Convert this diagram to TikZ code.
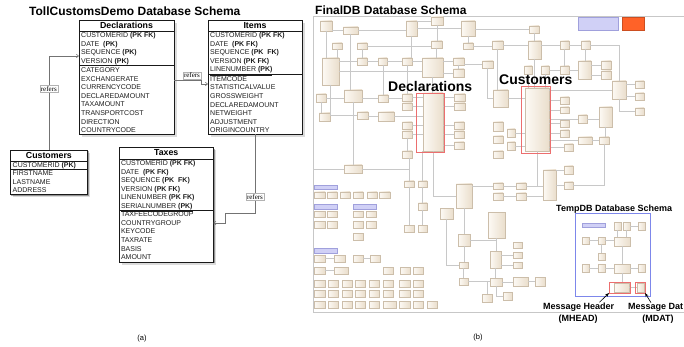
\documentclass[tikz,border=0pt]{standalone}
\usepackage{fontspec}
\setmainfont{Liberation Sans}
\newfontfamily\relfont{Liberation Serif}
\usetikzlibrary{shadows,arrows.meta}

\definecolor{beigeL}{RGB}{253,250,245}
\definecolor{beigeR}{RGB}{234,222,204}
\definecolor{beigeD}{RGB}{204,190,170}
\definecolor{wire}{RGB}{200,200,200}
\definecolor{lav}{RGB}{208,208,246}
\definecolor{lavD}{RGB}{160,160,220}
\definecolor{redbox}{RGB}{236,110,110}
\definecolor{bluebox}{RGB}{125,135,235}
\definecolor{orangebox}{RGB}{255,98,40}

% a rectangle node given by its corner coordinates
\newcommand\rectnode[6]{\node[#1,minimum width={(#5-#3)*1pt},minimum height={(#6-#4)*1pt}] (#2) at ({(#3+#5)/2},{(#4+#6)/2}) {};}
% orthogonal wires between the small schema boxes
\newcommand\hlink[2]{\draw[wirel] (#2.west) -- (#2.west -| #1.east);}
\newcommand\hlinkA[2]{\draw[wirel] (#1.east) -- (#1.east -| #2.west);}
\newcommand\vlink[2]{\draw[wirel] (#1.south) -- (#1.south |- #2.north);}
\newcommand\vlinkB[2]{\draw[wirel] (#2.north) -- (#2.north |- #1.south);}

\begin{document}
\begin{tikzpicture}[x=1pt,y=-1pt,
  tbl/.style={draw=black!90,line width=0.6pt,fill=white,inner sep=0,outer sep=0,
    general shadow={fill=black,opacity=.14,shadow xshift=2.6pt,shadow yshift=-2.6pt},
    drop shadow={fill=black,opacity=.32,shadow xshift=1.3pt,shadow yshift=-1.3pt}},
  tline/.style={draw=black!90,line width=0.5pt},
  hdr/.style={font=\fontsize{8.8}{9}\selectfont\bfseries,anchor=base,inner sep=0},
  rowt/.style={font=\fontsize{7}{8}\selectfont,anchor=base west,inner sep=0,text=black!88},
  relline/.style={draw=black!55,line width=0.55pt,-{Straight Barb[length=2.2pt,width=3.4pt]}},
  reflabel/.style={font=\relfont\fontsize{7}{7}\selectfont,fill=white,draw=black!30,line width=0.3pt,inner sep=0.9pt},
  ttl/.style={font=\fontsize{12}{12}\selectfont\bfseries,anchor=base west,inner sep=0},
  bigl/.style={font=\fontsize{14}{14}\selectfont\bfseries,anchor=base west,inner sep=0},
  midl/.style={font=\fontsize{9}{9}\selectfont\bfseries,inner sep=0},
  capt/.style={font=\fontsize{7.5}{8}\selectfont,inner sep=0},
  bb/.style={draw=beigeD,line width=0.35pt,left color=beigeL,right color=beigeR,inner sep=0,outer sep=0},
  tag/.style={draw=lavD,fill=lav,line width=0.3pt,inner sep=0,outer sep=0},
  orng/.style={draw=orangebox!80!black,fill=orangebox,line width=0.3pt,inner sep=0,outer sep=0},
  redb/.style={draw=redbox,line width=0.7pt,inner sep=0,outer sep=0},
  blueb/.style={draw=bluebox,line width=0.8pt,inner sep=0,outer sep=0},
  wirel/.style={draw=wire,line width=0.35pt},
  frame/.style={draw=black!22,line width=0.6pt},
  callout/.style={draw=black,line width=0.6pt,-{Stealth[length=4pt,width=3pt]}}]

\useasboundingbox (0,0) rectangle (684,347);
\fill[white] (0,0) rectangle (684,347);

% ---------------- (a) TollCustomsDemo ----------------
\node[ttl] (ttlA) at (29,15.3) {TollCustomsDemo Database Schema};

\rectnode{tbl}{decl}{79}{20}{174}{134}
\rectnode{tbl}{itm}{208}{20}{302}{134}
\rectnode{tbl}{cust}{10}{150}{87.7}{194.3}
\rectnode{tbl}{tax}{119}{147.3}{213.3}{262}

% Declarations
\node[hdr] (declh) at (126.5,28.6) {Declarations};
\draw[tline] (decl.west |- 0,31) -- (decl.east |- 0,31);
\draw[tline] (decl.west |- 0,65.3) -- (decl.east |- 0,65.3);
\foreach \rtx [count=\i from 0] in {CUSTOMERID \textbf{(PK FK)},DATE\ \ \textbf{(PK)},SEQUENCE \textbf{(PK)},VERSION \textbf{(PK)}}
  \node[rowt] (dk\i) at (81,{37.6+8.6*\i}) {\rtx};
\foreach \rtx [count=\i from 0] in {CATEGORY,EXCHANGERATE,CURRENCYCODE,DECLAREDAMOUNT,TAXAMOUNT,TRANSPORTCOST,DIRECTION,COUNTRYCODE}
  \node[rowt] (dr\i) at (81,{72.7+8.57*\i}) {\rtx};

% Items
\node[hdr] (itmh) at (255,28.6) {Items};
\draw[tline] (itm.west |- 0,31) -- (itm.east |- 0,31);
\draw[tline] (itm.west |- 0,74) -- (itm.east |- 0,74);
\foreach \rtx [count=\i from 0] in {CUSTOMERID \textbf{(PK FK)},DATE\ \ \textbf{(PK FK)},SEQUENCE \textbf{(PK\ \ FK)},VERSION \textbf{(PK FK)},\underline{LINENUMBER \textbf{(PK)}}}
  \node[rowt] (ik\i) at (210,{37.6+8.6*\i}) {\rtx};
\foreach \rtx [count=\i from 0] in {ITEMCODE,STATISTICALVALUE,GROSSWEIGHT,DECLAREDAMOUNT,NETWEIGHT,ADJUSTMENT,ORIGINCOUNTRY}
  \node[rowt] (ir\i) at (210,{81.3+8.57*\i}) {\rtx};

% Customers
\node[hdr] (custh) at (48.9,158.3) {Customers};
\draw[tline] (cust.west |- 0,161) -- (cust.east |- 0,161);
\draw[tline] (cust.west |- 0,169) -- (cust.east |- 0,169);
\node[rowt] (ck0) at (12.5,167.3) {CUSTOMERID \textbf{(PK)}};
\foreach \rtx [count=\i from 0] in {FIRSTNAME,LASTNAME,ADDRESS}
  \node[rowt] (cr\i) at (12.5,{176+8.5*\i}) {\rtx};

% Taxes
\node[hdr] (taxh) at (166.2,156) {Taxes};
\draw[tline] (tax.west |- 0,159) -- (tax.east |- 0,159);
\draw[tline] (tax.west |- 0,210.3) -- (tax.east |- 0,210.3);
\foreach \rtx [count=\i from 0] in {CUSTOMERID \textbf{(PK FK)},DATE\ \ \textbf{(PK FK)},SEQUENCE \textbf{(PK\ \ FK)},VERSION \textbf{(PK FK)},LINENUMBER \textbf{(PK FK)},\underline{SERIALNUMBER \textbf{(PK)}}}
  \node[rowt] (tk\i) at (120.8,{165.7+8.46*\i}) {\rtx};
\foreach \rtx [count=\i from 0] in {TAXFEECODEGROUP,COUNTRYGROUP,KEYCODE,TAXRATE,BASIS,AMOUNT}
  \node[rowt] (tr\i) at (120.8,{216.6+8.66*\i}) {\rtx};

% relations
\draw[relline] (cust.north) |- (decl.west |- 0,56);
\node[reflabel] (ref1) at (cust.north |- 0,89) {refers};
\draw[relline] (decl.east |- 0,80) -- ++(27,0) |- (itm.west |- 0,84);
\node[reflabel] (ref2) at (192,75.3) {refers};
\draw[relline] (itm.south) -- ++(0,79) -- ++(-30,0) |- (tax.east |- 0,223);
\node[reflabel] (ref3) at (itm.south |- 0,197) {refers};

\node[capt] (capA) at (142,339) {(a)};

% ---------------- (b) FinalDB ----------------
\node[ttl] (ttlB) at (315,14.3) {FinalDB Database Schema};
\coordinate (fnw) at (313,16);
\coordinate (fsw) at (313,312);
\coordinate (fne) at (684,16);
\coordinate (fse) at (684,312);
\draw[frame] (fne) -- (fnw) -- (fsw) -- (fse);

\foreach \n/\xa/\ya/\xb/\yb in {
  p1/320/21/332/31, p2/343/27/358/34, p3/406/21/417/36, p4/431/17/443/25, p5/461/21/475/36,
  p6/332/43/342/49, p7/357/43/367/49, p8/431/41/442/48, p9/463/43/473/49, p10/492/41/503/49,
  p11/322/58/339/85, p12/357/58/367/65, p13/378/58/387/65, p14/402/58/412/65, p15/422/58/443/77,
  p16/453/58/464/65, p17/453/69/464/77, p18/482/61/493/68, p19/316/94/326/102, p20/344/90/362/102,
  p21/378/95/388/102, p22/402/94/412/101, p23/402/103/412/110, p24/454/94/465/101, p25/454/103/465/110,
  p26/319/113/330/121, p27/357/112/368/119, p28/378/112/394/121, p29/402/122/412/129, p30/402/131/412/138,
  p31/454/122/464/129, p32/454/131/464/138, p33/454/142/464/149, p34/402/151/412/158, DECL/423/93/443/151,
  q1/529/26/539/33, q2/528/41/541/59, q3/560/41/569/49, q4/581/41/590/49, q5/524/66/532/74,
  q6/541/66/549/74, q7/560/66/569/74, q8/578/61/591/79, q9/601/61/611/69, q10/601/71/611/79,
  q11/612/81/626/99, q12/635/81/644/88, q13/635/93/644/100, q14/635/108/644/115, q15/493/90/508/107,
  CUST/525/88/549/151, q16/560/97/569/104, q17/560/107/569/113, q18/560/120/569/127, q19/560/130/569/137,
  q20/578/115/587/123, q21/599/107/612/127, q22/578/137/592/144, q23/599/137/609/144, q24/564/144/573/151,
  q25/493/122/503/131, q26/507/129/515/137, q27/493/136/503/143, q28/507/142/515/150, q29/493/151/503/158,
  r1/344/165/362/173, r2/404/181/414/187, r3/418/181/427/187, r4/456/184/472/208, r5/440/208/453/219,
  r6/418/203/427/210, r7/404/225/414/232, r8/418/225/427/232, r9/488/212/505/238, r10/458/234/470/246,
  r11/459/262/468/268, r12/459/278/468/285, r13/490/278/502/286, r14/490/251/501/268, r15/482/294/492/302,
  r16/503/292/512/300,
  s1/543/170/556/200, s2/564/166/573/174, s3/564/182/573/189, s4/493/183/503/189, s5/516/183/526/189,
  s6/493/193/503/200, s7/516/193/526/200, s8/513/242/522/248, s9/513/252/522/258, s10/513/262/522/268,
  s11/513/277/528/286, s12/535/277/545/286,
  gA1/314/192/325/198, gA2/327/192/337/198, gA3/340/192/350/198, gA4/353/192/363/198, gA5/367/192/377/198, gA6/379/192/390/198,
  gB1/314/211/325/217, gB2/327/211/337/217, gB3/353/211/363/217, gB4/366/211/376/217,
  gC1/314/221/325/228, gC2/327/221/337/228, gC3/353/221/363/228, gC4/366/221/376/228,
  gD1/353/233/363/240,
  gE1/314/255/325/262, gE2/334/255/345/262, gE3/353/255/363/262, gE4/370/255/380/262,
  gF1/314/267/325/274, gF2/334/267/348/274, gF3/383/267/393/274, gF4/400/267/410/274, gF5/413/267/423/274,
  gG1/314/280/325/287, gG2/328/280/338/287, gG3/342/280/352/287, gG4/355/280/365/287, gG5/369/280/379/287, gG6/383/280/393/287, gG7/399/280/410/287, gG8/413/280/423/287,
  gH1/314/290/325/297, gH2/328/290/338/297, gH3/342/290/352/297, gH4/355/290/365/297, gH5/369/290/379/297, gH6/383/290/393/297, gH7/399/290/410/297, gH8/413/290/423/297,
  gI1/314/301/325/308, gI2/328/301/338/308, gI3/342/301/352/308, gI4/355/301/365/308, gI5/369/301/379/308, gI6/383/301/396/308, gI7/399/301/410/308, gI8/413/301/423/308, gI9/427/301/437/308,
  t1/614/222/621/230, t2/623/222/630/230, t3/638/222/645/230, t4/582/237/589/244, t5/598/237/605/244,
  t6/614/237/630/246, t7/598/253/605/260, t8/582/264/589/272, t9/598/264/605/272, t10/614/264/630/273,
  t11/638/264/645/272, t12/614/283/629/292, t13/637/283/644/292}
  {\rectnode{bb}{\n}{\xa}{\ya}{\xb}{\yb}}

% package tags and notes
\foreach \n/\xa/\ya/\xb/\yb in {tg0/314/185/337/189, tg1/314/204/337/209, tg2/353/204/376/209, tg3/314/248/337/253, t0/582/223/605/227, lg1/578/17/618/30}
  {\rectnode{tag}{\n}{\xa}{\ya}{\xb}{\yb}}
\rectnode{orng}{lg2}{622}{17}{644}{30}

% wires of the upper half
\hlink{p1}{p2} \hlinkA{p2}{p3} \hlinkA{p3}{p5} \hlink{p3}{p4}
\vlink{p1}{p11} \vlink{p2}{p20} \vlink{p6}{p11} \vlink{p7}{p12}
\hlinkA{p12}{p13} \hlinkA{p13}{p14} \hlinkA{p14}{p15}
\vlink{p8}{p15} \hlink{p15}{p16} \hlink{p15}{p17} \hlinkA{p9}{p10} \vlink{p5}{p9}
\hlink{p11}{p12} \draw[wirel] (p11.east) -- (p11.east -| p15.west);
\hlink{p20}{p21} \hlinkA{p21}{p22} \hlinkA{p22}{DECL} \hlinkA{p23}{DECL}
\hlink{DECL}{p24} \hlink{DECL}{p25} \hlink{DECL}{p31} \hlink{DECL}{p32} \hlink{DECL}{p33}
\hlinkA{p29}{DECL} \hlinkA{p30}{DECL} \vlink{p30}{p34} \hlinkA{p28}{DECL} \hlink{p27}{p28}
\vlink{p20}{r1} \vlink{p19}{p26} \hlinkA{p19}{p20} \vlinkB{p13}{p21} \vlink{p14}{p22}
\vlink{p16}{p17} \hlink{p16}{p18}
\draw[wirel] (p18.south) |- (q15.west);
\draw[wirel] (p11.south) |- (p27.west);
\vlink{p15}{DECL} \vlink{p3}{p14} \vlink{p4}{p8} \hlinkA{p7}{p8} \hlink{p5}{q1}
\vlink{q1}{q2} \hlink{q2}{q3} \hlinkA{q3}{q4} \hlinkA{p10}{q2} \vlink{q2}{CUST}
\hlinkA{q6}{q7} \hlinkA{q7}{q8} \vlink{q4}{q8} \hlink{q8}{q9} \hlink{q8}{q10}
\hlink{CUST}{q11} \hlink{q11}{q12} \hlink{q11}{q13}
\draw[wirel] (q11.south) |- (q14.west);
\hlink{CUST}{q16} \hlink{CUST}{q17} \hlink{CUST}{q18} \hlink{CUST}{q19}
\hlinkA{q20}{q21} \hlink{CUST}{q20} \hlinkA{q22}{q23} \hlink{CUST}{q22}
\vlink{q21}{q23} \hlink{CUST}{q24} \hlinkA{q15}{CUST} \hlinkA{q26}{CUST} \hlinkA{q28}{CUST}
\vlink{p10}{q15} \vlink{q3}{q7}
\draw[wirel] (q4.east) -| (q11.north);
\vlink{q5}{CUST} \vlink{q6}{CUST}
\draw[wirel] (q23.south) |- (s3.east);

% wires of the lower half
\hlink{s1}{s2} \hlink{s1}{s3} \hlinkA{s4}{s5} \hlinkA{s6}{s7} \hlinkA{s5}{s1} \hlinkA{s7}{s1}
\draw[wirel] (CUST.south) |- (s5.east);
\vlink{r9}{r14} \vlink{r14}{r13} \hlinkA{r13}{s11} \hlinkA{s11}{s12}
\draw[wirel] (r13.south) |- (r16.west);
\hlink{r4}{s4} \vlink{r4}{r10}
\draw[wirel] (r10.east) -| (r9.south);
\vlink{r10}{r11} \vlink{r11}{r12}
\draw[wirel] (r5.south) |- (r11.west);
\hlinkA{r12}{r13}
\draw[wirel] (r15.north) -- (r15.north |- r12.east);
\vlink{r2}{r7} \vlink{r3}{r6} \vlink{r6}{r8}
\draw[wirel] (r2.north) -- (r2.north |- p34.south);
\draw[wirel] (r3.north) -- (r3.north |- DECL.south);
\draw[wirel] (DECL.south) |- (r4.west);
\draw[wirel] (r1.east) -| (r2.north);
\draw[wirel] (r1.west) -- (r1.west -| fnw);
\hlink{r14}{s9} \hlink{r14}{s10}
\hlinkA{gE1}{gE2} \hlinkA{gE3}{gE4} \hlinkA{gF1}{gF2}

% TempDB wires
\hlinkA{t4}{t5} \hlinkA{t5}{t6} \vlink{t5}{t7} \vlink{t1}{t6} \vlink{t2}{t6} \hlinkA{t2}{t3}
\vlink{t6}{t10} \hlinkA{t8}{t9} \hlinkA{t9}{t10} \hlinkA{t10}{t11} \vlink{t10}{t12} \hlinkA{t12}{t13}

% highlighted tables
\rectnode{redb}{rdecl}{416}{93}{444}{152}
\rectnode{redb}{rcust}{521}{86}{550}{153}
\node[bigl] (lblD) at (388,91.5) {Declarations};
\node[bigl] (lblC) at (499,85) {Customers};

% TempDB schema
\rectnode{blueb}{tempdb}{575}{213}{650}{296}
\node[midl,anchor=base west] (ttlT) at (556,211.5) {TempDB Database Schema};
\rectnode{redb}{rmh}{609}{282}{630}{293}
\rectnode{redb}{rmd}{635}{282}{645}{293}
\node[midl,anchor=base west] (mh) at (543,309) {Message Header};
\node[midl,anchor=base] (mhs) at (578,321) {(MHEAD)};
\node[midl,anchor=base west] (md) at (628,309) {Message Dat};
\node[midl,anchor=base] (mds) at (658,321) {(MDAT)};
\draw[callout] ([xshift=-15pt]mh.north east) -- (rmh.south west);
\draw[callout] ([xshift=23pt]md.north west) -- (rmd.south east);

\node[capt] (capB) at (478,338) {(b)};
\end{tikzpicture}
\end{document}
